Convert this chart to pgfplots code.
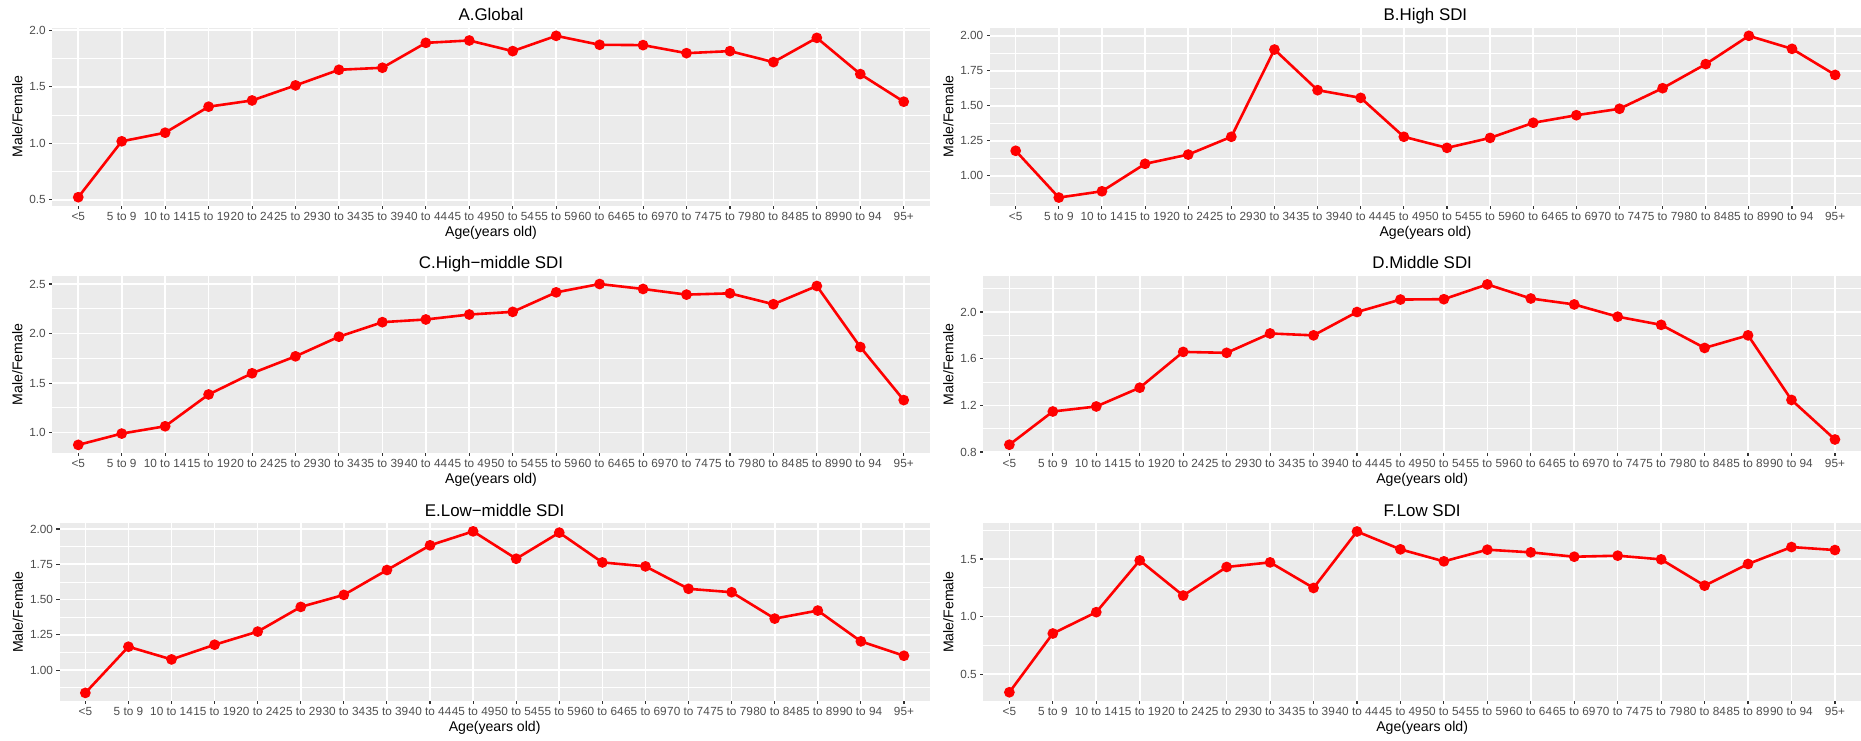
\documentclass[border=0pt]{standalone}
\usepackage{pgfplots}
\pgfplotsset{compat=1.18}
\usepackage{pgfplotstable}
\usepackage{fontspec}
\setmainfont{Liberation Sans}
\definecolor{bggray}{HTML}{EBEBEB}
\definecolor{tlc}{HTML}{4D4D4D}
\definecolor{tickc}{HTML}{333333}

\pgfplotstableread{
x y
0 0.524
1 1.018
2 1.094
3 1.324
4 1.379
5 1.512
6 1.650
7 1.668
8 1.888
9 1.909
10 1.815
11 1.950
12 1.871
13 1.868
14 1.797
15 1.815
16 1.718
17 1.932
18 1.612
19 1.368
}\dataA

\pgfplotstableread{
x y
0 1.179
1 0.845
2 0.890
3 1.086
4 1.152
5 1.279
6 1.902
7 1.612
8 1.557
9 1.279
10 1.200
11 1.271
12 1.379
13 1.433
14 1.479
15 1.626
16 1.798
17 2.000
18 1.907
19 1.721
}\dataB

\pgfplotstableread{
x y
0 0.876
1 0.990
2 1.064
3 1.385
4 1.599
5 1.770
6 1.968
7 2.115
8 2.142
9 2.192
10 2.219
11 2.416
12 2.500
13 2.450
14 2.393
15 2.406
16 2.296
17 2.480
18 1.864
19 1.328
}\dataC

\pgfplotstableread{
x y
0 0.862
1 1.147
2 1.190
3 1.351
4 1.658
5 1.650
6 1.816
7 1.800
8 2.000
9 2.107
10 2.110
11 2.237
12 2.116
13 2.065
14 1.960
15 1.890
16 1.692
17 1.800
18 1.246
19 0.907
}\dataD

\pgfplotstableread{
x y
0 0.839
1 1.166
2 1.076
3 1.180
4 1.273
5 1.448
6 1.533
7 1.709
8 1.884
9 1.983
10 1.789
11 1.974
12 1.763
13 1.735
14 1.576
15 1.552
16 1.365
17 1.422
18 1.204
19 1.102
}\dataE

\pgfplotstableread{
x y
0 0.344
1 0.854
2 1.039
3 1.488
4 1.183
5 1.431
6 1.471
7 1.249
8 1.739
9 1.584
10 1.480
11 1.581
12 1.558
13 1.520
14 1.529
15 1.497
16 1.269
17 1.457
18 1.604
19 1.578
}\dataF

\pgfplotsset{
  panel/.style={
    scale only axis,
    xmin=-0.6, xmax=19.6,
    xtick={0,...,19},
    xticklabels={{<5},{5 to 9},{10 to 14},{15 to 19},{20 to 24},{25 to 29},{30 to 34},{35 to 39},{40 to 44},{45 to 49},{50 to 54},{55 to 59},{60 to 64},{65 to 69},{70 to 74},{75 to 79},{80 to 84},{85 to 89},{90 to 94},{95+}},
    tick pos=left, tick align=outside,
    major tick length=3pt,
    minor tick length=0pt,
    tick style={draw=tickc, line width=1.1pt},
    axis line style={draw=none},
    axis background/.style={fill=bggray},
    xmajorgrids, ymajorgrids, yminorgrids,
    major grid style={draw=white, line width=1.6pt},
    minor grid style={draw=white, line width=0.8pt},
    ticklabel style={font=\fontsize{11.8}{13}\selectfont, text=tlc},
    /pgf/number format/assume math mode=true,
    xlabel={Age(years old)}, ylabel={Male/Female},
    label style={font=\fontsize{14.1}{16}\selectfont},
    xlabel style={at={(axis description cs:0.5,0)}, anchor=base, yshift=-30.5pt},
    every axis title shift=0pt,
    title style={at={(axis description cs:0.5,1)}, anchor=base, yshift=7pt, font=\fontsize{16.9}{19}\selectfont},
  },
  ln/.style={color=red, line width=2.6pt, mark=*, mark size=4pt, mark options={solid, fill=red, draw=red}},
  one/.style={yticklabel style={/pgf/number format/.cd, fixed, fixed zerofill, precision=1}},
  two/.style={yticklabel style={/pgf/number format/.cd, fixed, fixed zerofill, precision=2}},
}

\begin{document}
\begin{tikzpicture}
\begin{axis}[panel, one, at={(52.2pt,712.3pt)}, anchor=north west, width=877.6pt, height=178pt,
  ymin=0.449, ymax=2.022, ytick={0.5,1.0,1.5,2.0}, minor ytick={0.75,1.25,1.75},
  title={A.Global}]
\addplot[ln] table[x=x,y=y]{\dataA};
\end{axis}

\begin{axis}[panel, two, at={(989.8pt,712.3pt)}, anchor=north west, width=871.2pt, height=178pt,
  ymin=0.787, ymax=2.058, ytick={1.0,1.25,1.5,1.75,2.0}, minor ytick={0.875,1.125,1.375,1.625,1.875},
  title={B.High SDI}]
\addplot[ln] table[x=x,y=y]{\dataB};
\end{axis}

\begin{axis}[panel, one, at={(52.2pt,464pt)}, anchor=north west, width=877.6pt, height=177pt,
  ymin=0.794, ymax=2.581, ytick={1.0,1.5,2.0,2.5}, minor ytick={1.25,1.75,2.25},
  title={C.High\char"2212 middle SDI}]
\addplot[ln] table[x=x,y=y]{\dataC};
\end{axis}

\begin{axis}[panel, one, at={(983.3pt,464pt)}, anchor=north west, width=877.7pt, height=177pt,
  ymin=0.791, ymax=2.309, ytick={0.8,1.2,1.6,2.0}, minor ytick={1.0,1.4,1.8,2.2},
  title={D.Middle SDI}]
\addplot[ln] table[x=x,y=y]{\dataD};
\end{axis}

\begin{axis}[panel, two, at={(59.5pt,216.7pt)}, anchor=north west, width=870.3pt, height=177.5pt,
  ymin=0.783, ymax=2.04, ytick={1.0,1.25,1.5,1.75,2.0}, minor ytick={0.875,1.125,1.375,1.625,1.875},
  title={E.Low\char"2212 middle SDI}]
\addplot[ln] table[x=x,y=y]{\dataE};
\end{axis}

\begin{axis}[panel, one, at={(983.3pt,216.7pt)}, anchor=north west, width=877.7pt, height=177.5pt,
  ymin=0.27, ymax=1.81, ytick={0.5,1.0,1.5}, minor ytick={0.75,1.25,1.75},
  title={F.Low SDI}]
\addplot[ln] table[x=x,y=y]{\dataF};
\end{axis}

\pgfresetboundingbox
\path (0pt,0pt) rectangle (1861pt,740pt);
\end{tikzpicture}
\end{document}
